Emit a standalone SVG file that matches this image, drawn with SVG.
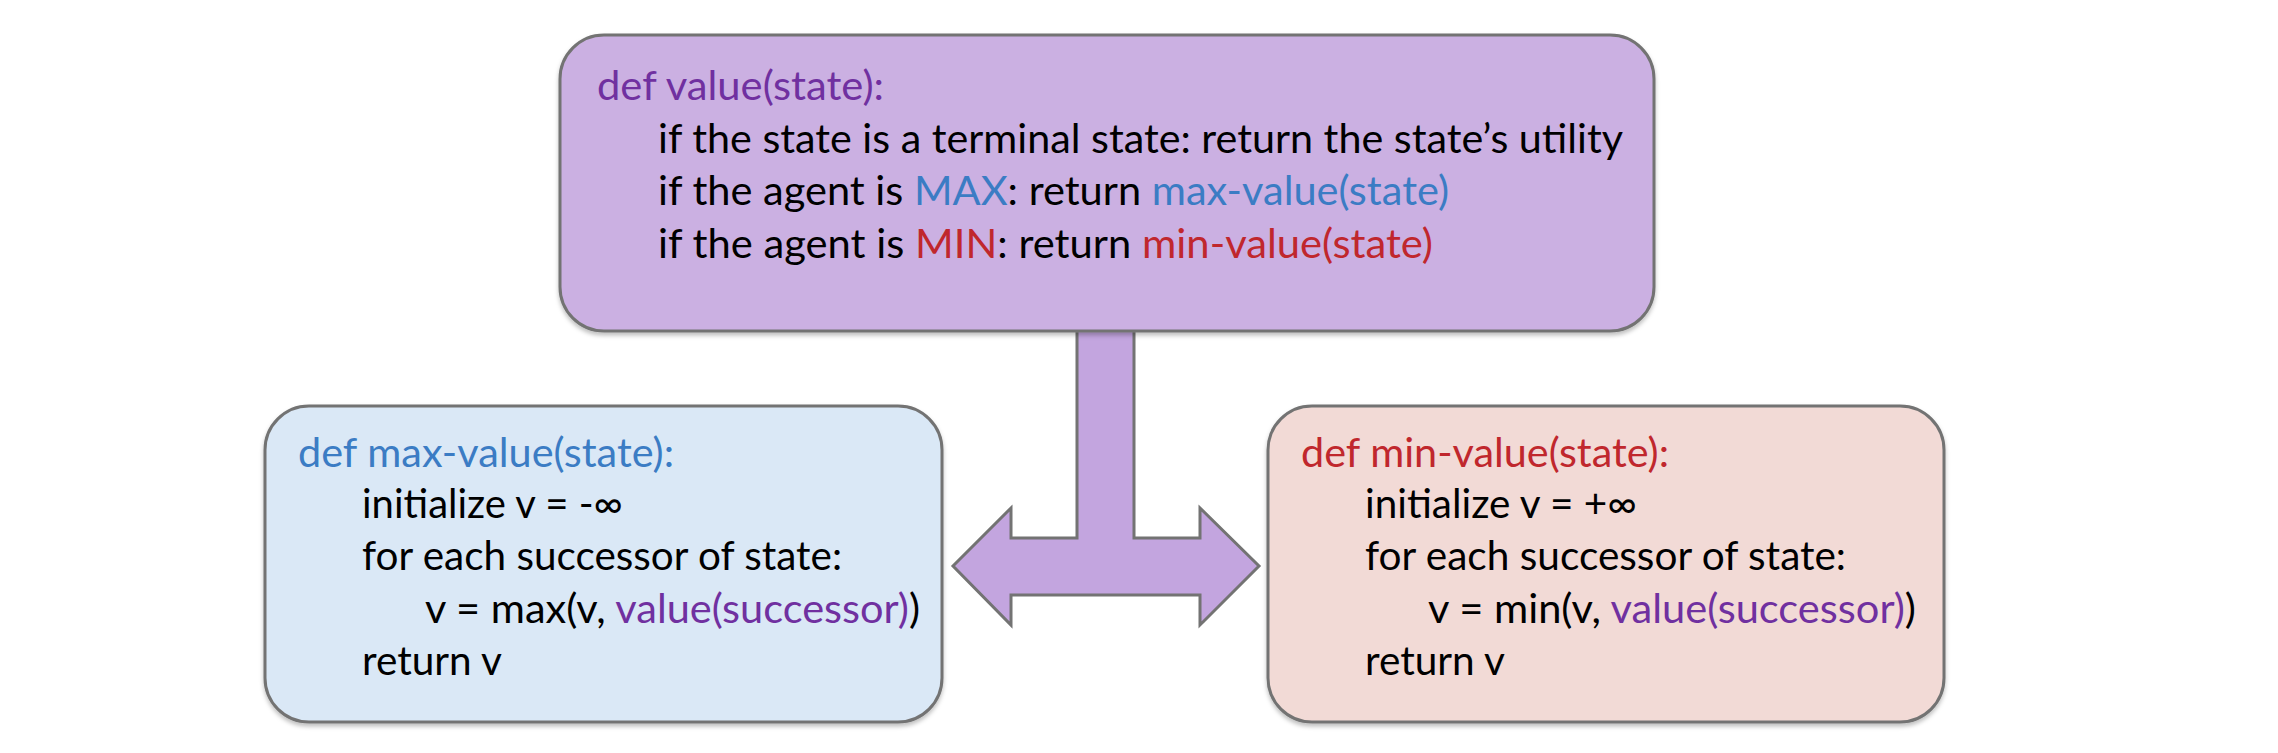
<svg xmlns="http://www.w3.org/2000/svg" width="2278" height="753" viewBox="0 0 2278 753">
<style>
text{font-family:Lato,"Open Sans","Liberation Sans",sans-serif;font-size:40px;fill:#000}
.box{stroke:#737373;stroke-width:3}
.pu{fill:#7030a0}
.bl{fill:#3b7cc4}
.rd{fill:#c0272d}
</style>
<defs>
<filter id="sh" x="-5%" y="-5%" width="110%" height="115%">
<feDropShadow dx="0" dy="3" stdDeviation="2" flood-color="#000" flood-opacity="0.25"/>
</filter>
</defs>
<rect width="2278" height="753" fill="#fff"/>
<g id="connectors">
<path d="M1077,331 L1077,538 L1011,538 L1011,508 L953,566 L1011,625 L1011,595 L1200,595 L1200,625 L1259,566 L1200,508 L1200,538 L1134,538 L1134,331" fill="#c3a5df" stroke="#737373" stroke-width="3" stroke-linejoin="miter"/>
</g>
<g id="value">
<rect class="box" x="560" y="35" width="1094" height="296" rx="44" ry="44" fill="#cbb0e2" filter="url(#sh)"/>
<text x="597" y="100" class="pu" textLength="287" lengthAdjust="spacingAndGlyphs">def value(state):</text>
<text x="658" y="153" textLength="965" lengthAdjust="spacingAndGlyphs">if the state is a terminal state: return the state’s utility</text>
<text x="658" y="205" textLength="791" lengthAdjust="spacingAndGlyphs">if the agent is <tspan class="bl">MAX</tspan>: return <tspan class="bl">max-value(state)</tspan></text>
<text x="658" y="258" textLength="775" lengthAdjust="spacingAndGlyphs">if the agent is <tspan class="rd">MIN</tspan>: return <tspan class="rd">min-value(state)</tspan></text>
</g>
<g id="max-value">
<rect class="box" x="265" y="406" width="677" height="316" rx="44" ry="44" fill="#dae8f6" filter="url(#sh)"/>
<text x="298" y="467" class="bl" textLength="376" lengthAdjust="spacingAndGlyphs">def max-value(state):</text>
<text x="362" y="518" textLength="261" lengthAdjust="spacingAndGlyphs">initialize v = -∞</text>
<text x="362" y="570" textLength="480" lengthAdjust="spacingAndGlyphs">for each successor of state:</text>
<text x="425" y="623" textLength="495" lengthAdjust="spacingAndGlyphs">v = max(v, <tspan class="pu">value(successor)</tspan>)</text>
<text x="362" y="675" textLength="140" lengthAdjust="spacingAndGlyphs">return v</text>
</g>
<g id="min-value">
<rect class="box" x="1268" y="406" width="676" height="316" rx="44" ry="44" fill="#f2dad6" filter="url(#sh)"/>
<text x="1301" y="467" class="rd" textLength="368" lengthAdjust="spacingAndGlyphs">def min-value(state):</text>
<text x="1365" y="518" textLength="272" lengthAdjust="spacingAndGlyphs">initialize v = +∞</text>
<text x="1365" y="570" textLength="481" lengthAdjust="spacingAndGlyphs">for each successor of state:</text>
<text x="1428" y="623" textLength="488" lengthAdjust="spacingAndGlyphs">v = min(v, <tspan class="pu">value(successor)</tspan>)</text>
<text x="1365" y="675" textLength="140" lengthAdjust="spacingAndGlyphs">return v</text>
</g>
</svg>
